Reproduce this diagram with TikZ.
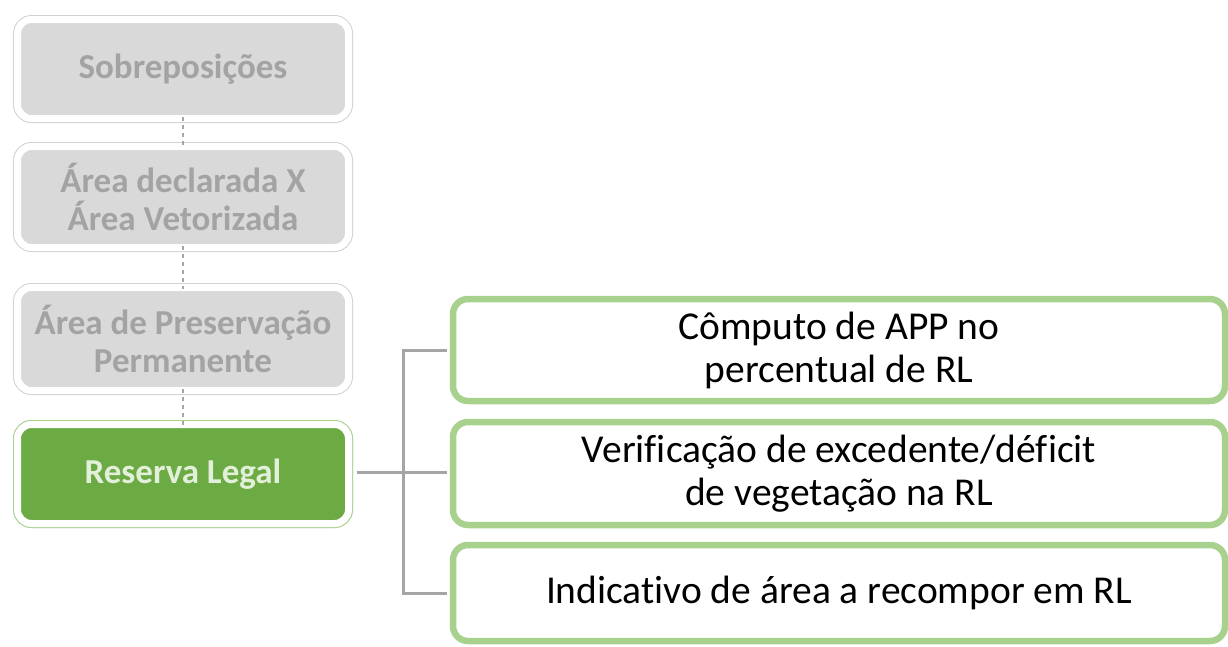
\documentclass[tikz,border=0pt]{standalone}
\usepackage{fontspec}
\setmainfont[Ligatures=NoCommon]{Carlito}
\definecolor{gfill}{HTML}{D9D9D9}
\definecolor{gtext}{HTML}{A3A3A3}
\definecolor{gline}{HTML}{D2D2D2}
\definecolor{dgreen}{HTML}{6CAA44}
\definecolor{lgreen}{HTML}{A9D18E}
\definecolor{rltext}{HTML}{E2F0D9}
\definecolor{conn}{HTML}{A5A5A5}
\tikzset{
  leftbox/.style={rectangle, rounded corners=14pt, inner sep=0pt, minimum width=331pt,
    align=center, font=\bfseries\fontsize{35}{38}\selectfont,
    preaction={draw=gline, line width=9pt}, draw=white, line width=7pt},
  graybox/.style={leftbox, fill=gfill, text=gtext},
  greenbox/.style={leftbox, fill=dgreen, text=rltext, preaction={draw=lgreen, line width=9pt}},
  subbox/.style={rectangle, rounded corners=15pt, inner sep=0pt, minimum width=772pt,
    align=center, font=\fontsize{39.5}{43}\selectfont, draw=lgreen, line width=6.5pt, fill=white, text=black},
  dashconn/.style={draw=conn, line width=1.5pt, dashed, dash pattern=on 4pt off 4pt},
  busconn/.style={draw=conn, line width=3pt}
}
\begin{document}
\begin{tikzpicture}[x=1pt,y=-1pt]
\useasboundingbox (0,0) rectangle (1228,646);
\clip (0,0) rectangle (1228,646);
\node[graybox, minimum height=99pt] (sob) at (183,69) {Sobreposições};
\node[graybox, minimum height=101pt] (area) at (183,197) {Área declarada X\\Área Vetorizada};
\node[graybox, minimum height=103pt] (app) at (183,339) {Área de Preservação\\Permanente};
\node[greenbox, minimum height=99pt] (rl) at (183,474) {Reserva Legal};
\draw[dashconn] ([yshift=5pt]sob.south) -- ([yshift=-5pt]area.north);
\draw[dashconn] ([yshift=5pt]area.south) -- ([yshift=-5pt]app.north);
\draw[dashconn] ([yshift=5pt]app.south) -- ([yshift=-5pt]rl.north);
\node[subbox, minimum height=102pt] (c1) at (839,350) {Cômputo de APP no\\percentual de RL};
\node[subbox, minimum height=103pt] (c2) at (839,473.5) {Verificação de excedente/déficit\\de vegetação na RL};
\node[subbox, minimum height=96pt] (c3) at (839,593) {Indicativo de área a recompor em RL};
\coordinate (bus) at (403,472);
\draw[busconn] ([xshift=4.5pt]rl.east |- bus) -- (bus);
\draw[busconn] ([xshift=-3pt]c1.west) -| (bus) |- ([xshift=-3pt]c3.west);
\draw[busconn] (bus) -- ([xshift=-3pt]c2.west |- bus);
\end{tikzpicture}
\end{document}
